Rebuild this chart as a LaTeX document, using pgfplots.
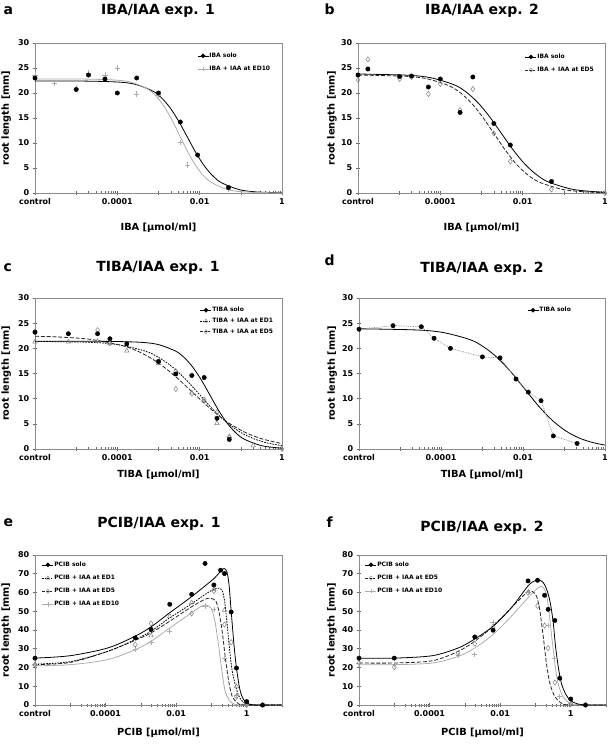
\documentclass[border=0pt]{standalone}
\usepackage{fontspec}
\setmainfont{DejaVu Sans}
\usepackage{pgfplots}
\pgfplotsset{compat=1.18}
\definecolor{axgray}{gray}{0.55}
\definecolor{tkgray}{gray}{0.4}
\definecolor{lgray}{gray}{0.68}
\definecolor{mgray}{gray}{0.5}
\pgfplotsset{
 panel/.style={
  scale only axis, width=247pt, height=150pt,
  xmin=-6, ymin=0,
  axis line style={axgray, line width=0.6pt},
  tick style={tkgray, line width=0.6pt},
  tick align=center, major tick length=4.5pt, minor tick length=3pt,
  xtick pos=bottom, ytick pos=left,
  /pgf/number format/assume math mode=true,
  ticklabel style={font=\fontsize{8}{9}\selectfont\bfseries, black},
  label style={font=\fontsize{9.8}{11}\selectfont\bfseries},
  ylabel={root length [mm]},
  minor xtick={-4.699,-4.523,-4.398,-4.301,-4.222,-4.155,-4.097,-4.046,-2.699,-2.523,-2.398,-2.301,-2.222,-2.155,-2.097,-2.046,-0.699,-0.523,-0.398,-0.301,-0.222,-0.155,-0.097,-0.046},
  legend style={draw=none, fill=none, font=\fontsize{6}{7}\selectfont\bfseries, anchor=north west, inner sep=0pt, row sep=6pt, nodes={inner sep=0.6pt}},
  legend cell align=left,
  legend image code/.code={\draw[mark repeat=2,mark phase=2,##1] plot coordinates {(0pt,0pt)(5.5pt,0pt)(11pt,0pt)};},
 },
 small/.style={panel, xmax=0, ymax=30, ytick={0,5,...,30}, xtick={-6,-5,...,0}, xticklabels={control,,0.0001,,0.01,,1}},
 big/.style={panel, xmax=1, ymax=80, ytick={0,10,...,80}, xtick={-6,-5,...,1}, xticklabels={control,,0.0001,,0.01,,1,}},
 solocurve/.style={black, line width=0.8pt, smooth, forget plot},
 solomarks/.style={only marks, mark=*, mark size=2.2pt, black, forget plot},
 tencurve/.style={lgray, line width=0.8pt, smooth, forget plot},
 tenmarks/.style={only marks, mark=+, mark size=2.6pt, lgray, line width=0.7pt, forget plot},
 fivecurve/.style={black!85, dash pattern=on 4pt off 1.8pt, line width=0.8pt, smooth, forget plot},
 fivemarks/.style={only marks, mark=diamond, mark size=2.6pt, mark options={draw=mgray, fill=white, solid, line width=0.5pt}, forget plot},
 onecurve/.style={black, dash pattern=on 1.6pt off 1.2pt, line width=0.8pt, smooth, forget plot},
 onemarks/.style={only marks, mark=triangle, mark size=2.6pt, mark options={draw=mgray, fill=white, solid, line width=0.5pt}, forget plot},
}
\newcommand{\lgsolo}{\addlegendimage{black, line width=0.6pt, mark=*, mark size=1.9pt}}
\newcommand{\lgten}{\addlegendimage{lgray, line width=0.6pt, mark=+, mark size=2.2pt}}
\newcommand{\lgfive}{\addlegendimage{black!85, dash pattern=on 2.5pt off 1.2pt, line width=0.6pt, mark=diamond, mark size=2.2pt, mark options={solid, draw=mgray, fill=white, line width=0.4pt}}}
\newcommand{\lgone}{\addlegendimage{black, dash pattern=on 1.2pt off 1pt, line width=0.6pt, mark=triangle, mark size=2.2pt, mark options={solid, draw=mgray, fill=white, line width=0.4pt}}}
\begin{document}
\begin{tikzpicture}[x=1pt,y=1pt]
\useasboundingbox (0,0) rectangle (609,747);

% ---------------- a ----------------
\begin{axis}[small, at={(35pt,554pt)}, anchor=south west,
  xlabel={IBA [µmol/ml]},
  xlabel style={at={(axis description cs:0.5,-0.233)}, anchor=center},
  ylabel style={at={(axis description cs:-0.117,0.5)}, anchor=center},
  legend style={at={(0.656,0.94)}}]
\addplot[solocurve] coordinates {(-6,22.40) (-4.8,22.38) (-3.967,22.18) (-3.55,21.71) (-3.133,20.36) (-2.925,19.02) (-2.717,17.02) (-2.508,14.34) (-2.3,11.20) (-2.092,8.06) (-1.883,5.38) (-1.675,3.38) (-1.467,2.04) (-1.05,0.69) (-0.633,0.22) (0,0.04)};
\addplot[tencurve] coordinates {(-6,22.80) (-4.788,22.78) (-4.018,22.57) (-3.634,22.09) (-3.249,20.73) (-3.057,19.36) (-2.865,17.33) (-2.672,14.59) (-2.48,11.40) (-2.288,8.21) (-2.095,5.47) (-1.903,3.44) (-1.711,2.07) (-1.326,0.71) (-0.942,0.23) (0,0.01)};
\addplot[tenmarks] coordinates {(-6,23.6) (-5.53,21.9) (-5.0,21.0) (-4.7,24.0) (-4.3,23.6) (-4.0,25.0) (-3.53,19.8) (-3.0,19.6) (-2.47,10.1) (-2.3,5.6) (-1.3,0.7)};
\addplot[solomarks] coordinates {(-6,23.0) (-5.0,20.7) (-4.7,23.6) (-4.3,22.8) (-4.0,20.0) (-3.53,23.0) (-3.0,20.0) (-2.47,14.2) (-2.05,7.6) (-1.3,1.1)};
\lgsolo \addlegendentry{IBA solo}
\lgten \addlegendentry{IBA + IAA at ED10}
\end{axis}

% ---------------- b ----------------
\begin{axis}[small, at={(358pt,554pt)}, anchor=south west,
  xlabel={IBA [µmol/ml]},
  xlabel style={at={(axis description cs:0.5,-0.233)}, anchor=center},
  ylabel style={at={(axis description cs:-0.105,0.5)}, anchor=center},
  legend style={at={(0.676,0.933)}}]
\addplot[solocurve] coordinates {(-6,23.80) (-4.813,23.56) (-4.238,23.06) (-3.663,21.64) (-3.376,20.21) (-3.089,18.09) (-2.801,15.23) (-2.514,11.90) (-2.227,8.57) (-1.939,5.71) (-1.652,3.59) (-1.365,2.17) (-0.790,0.74) (-0.215,0.24) (0,0.15)};
\addplot[fivecurve] coordinates {(-6,23.58) (-4.888,23.36) (-4.338,22.87) (-3.789,21.45) (-3.514,20.04) (-3.239,17.94) (-2.965,15.10) (-2.69,11.80) (-2.415,8.50) (-2.141,5.66) (-1.866,3.56) (-1.591,2.15) (-1.042,0.73) (-0.492,0.23) (0,0.08)};
\addplot[fivemarks] coordinates {(-6,22.6) (-5.76,26.7) (-4.99,22.8) (-4.70,23.2) (-4.29,19.8) (-4.0,21.8) (-3.52,16.6) (-3.21,20.8) (-2.70,11.9) (-2.30,6.3) (-1.30,0.7) (0,0.0)};
\addplot[solomarks] coordinates {(-6,23.6) (-5.76,24.8) (-4.99,23.3) (-4.70,23.4) (-4.29,21.2) (-4.0,22.8) (-3.52,16.1) (-3.21,23.2) (-2.70,13.9) (-2.30,9.6) (-1.30,2.3)};
\lgsolo \addlegendentry{IBA solo}
\lgfive \addlegendentry{IBA + IAA at ED5}
\end{axis}

% ---------------- c ----------------
\begin{axis}[small, at={(35pt,298pt)}, anchor=south west, height=151pt,
  xlabel={TIBA [µmol/ml]},
  xlabel style={at={(axis description cs:0.5,-0.17)}, anchor=center},
  ylabel style={at={(axis description cs:-0.117,0.5)}, anchor=center},
  legend style={at={(0.668,0.944)}, row sep=3.6pt}]
\addplot[solocurve] coordinates {(-6,21.40) (-4.25,21.38) (-3.417,21.19) (-3.0,20.74) (-2.583,19.45) (-2.375,18.17) (-2.167,16.26) (-1.958,13.70) (-1.75,10.70) (-1.542,7.70) (-1.333,5.14) (-1.125,3.23) (-0.917,1.95) (-0.5,0.66) (-0.083,0.21) (0,0.17)};
\addplot[onecurve] coordinates {(-6,21.38) (-4.657,21.19) (-3.99,20.74) (-3.323,19.45) (-2.99,18.17) (-2.657,16.26) (-2.323,13.70) (-1.99,10.70) (-1.657,7.70) (-1.323,5.14) (-0.99,3.23) (-0.657,1.95) (-0.323,1.13) (0,0.67)};
\addplot[fivecurve] coordinates {(-6,22.39) (-5.503,22.28) (-4.67,21.80) (-3.837,20.45) (-3.42,19.10) (-3.003,17.10) (-2.587,14.40) (-2.17,11.25) (-1.753,8.10) (-1.337,5.40) (-0.92,3.40) (-0.503,2.05) (0,1.07)};
\addplot[onemarks] coordinates {(-6,21.3) (-5.19,21.3) (-4.48,21.4) (-4.18,21.0) (-3.77,19.5) (-3.0,17.0) (-2.58,15.5) (-2.19,11.2) (-1.89,9.5) (-1.58,5.1) (-1.28,2.5) (-0.70,0.7)};
\addplot[fivemarks] coordinates {(-6,23.4) (-4.48,23.6) (-4.18,21.0) (-3.0,17.2) (-2.58,11.9) (-2.19,11.0) (-1.89,9.8) (-1.58,7.3) (-1.28,2.3) (0,0.0)};
\addplot[solomarks] coordinates {(-6,23.2) (-5.19,22.9) (-4.48,22.9) (-4.18,21.9) (-3.77,20.9) (-3.0,17.4) (-2.58,14.9) (-2.19,14.6) (-1.89,14.2) (-1.58,6.1) (-1.28,1.9)};
\lgsolo \addlegendentry{TIBA solo}
\lgone \addlegendentry{TIBA + IAA at ED1}
\lgfive \addlegendentry{TIBA + IAA at ED5}
\end{axis}

% ---------------- d ----------------
\begin{axis}[small, at={(359pt,298pt)}, anchor=south west, width=246pt, height=151pt,
  xlabel={TIBA [µmol/ml]},
  xlabel style={at={(axis description cs:0.5,-0.17)}, anchor=center},
  ylabel style={at={(axis description cs:-0.109,0.5)}, anchor=center},
  legend style={at={(0.683,0.944)}}]
\addplot[solocurve] coordinates {(-6,23.88) (-4.627,23.66) (-3.96,23.16) (-3.293,21.73) (-2.96,20.29) (-2.627,18.16) (-2.293,15.30) (-1.96,11.95) (-1.627,8.60) (-1.293,5.74) (-0.96,3.61) (-0.627,2.17) (-0.293,1.27) (0,0.78)};
\addplot[mgray, densely dotted, line width=0.7pt, forget plot] coordinates {(-6,23.8) (-5.17,24.5) (-4.48,24.3) (-4.17,22.0) (-3.77,20.0) (-2.99,18.3) (-2.56,18.1) (-2.17,13.9) (-1.87,11.3) (-1.56,9.6) (-1.26,2.6) (-0.68,1.1)};
\addplot[solomarks] coordinates {(-6,23.8) (-5.17,24.5) (-4.48,24.3) (-4.17,22.0) (-3.77,20.0) (-2.99,18.3) (-2.56,18.1) (-2.17,13.9) (-1.87,11.3) (-1.56,9.6) (-1.26,2.6) (-0.68,1.1)};
\lgsolo \addlegendentry{TIBA solo}
\end{axis}

% ---------------- e ----------------
\begin{axis}[big, at={(35pt,42pt)}, anchor=south west,
  xlabel={PCIB [µmol/ml]},
  xlabel style={at={(axis description cs:0.5,-0.187)}, anchor=center},
  ylabel style={at={(axis description cs:-0.117,0.5)}, anchor=center},
  legend style={at={(0.028,0.96)}}]
\addplot[tencurve, tension=0.5] coordinates {(-6,20.9) (-5.0,21.5) (-3.94,24.2) (-3.16,29.5) (-2.71,34.0) (-2.18,41.1) (-1.56,49.2) (-1.31,52.4) (-1.17,53.3) (-1.02,51.9) (-0.91,45.6) (-0.82,34.9) (-0.72,20.6) (-0.62,8.1) (-0.50,2.7) (-0.36,0.5) (-0.17,0) (1,0)};
\addplot[fivecurve, tension=0.5] coordinates {(-6,21.5) (-5.0,22.7) (-3.94,28.6) (-3.16,34.5) (-2.71,38.5) (-2.18,44.7) (-1.56,52.4) (-1.18,56.4) (-1.02,56.9) (-0.88,55.5) (-0.79,50.1) (-0.69,38.5) (-0.60,24.2) (-0.50,11.6) (-0.41,4.5) (-0.27,1.3) (-0.08,0) (1,0)};
\addplot[onecurve, tension=0.5] coordinates {(-6,21.8) (-5.0,23.1) (-3.94,28.6) (-3.16,34.9) (-2.71,39.4) (-2.18,46.5) (-1.56,54.0) (-1.18,59.0) (-0.93,61.7) (-0.79,62.3) (-0.69,60.8) (-0.62,54.6) (-0.55,42.0) (-0.48,28.5) (-0.41,18.0) (-0.29,8.5) (-0.19,3.6) (-0.03,0.6) (0.2,0) (1,0)};
\addplot[solocurve, tension=0.5] coordinates {(-6,25.0) (-5.0,26.3) (-3.94,30.4) (-3.16,36.7) (-2.71,41.7) (-2.18,49.2) (-1.56,57.8) (-1.18,63.5) (-0.93,67.4) (-0.74,71.3) (-0.64,72.8) (-0.56,71.0) (-0.50,64.0) (-0.44,50.0) (-0.36,32.0) (-0.29,19.7) (-0.19,8.0) (-0.08,2.7) (0.07,0.5) (0.3,0) (1,0)};
\addplot[tenmarks] coordinates {(-6,21.5) (-3.16,29.9) (-2.71,33.5) (-2.18,39.4) (-1.18,52.8) (-0.93,51.0) (-0.63,25.0) (-0.29,5.0) (0,0)};
\addplot[fivemarks] coordinates {(-6,21.5) (-3.16,32.2) (-2.71,43.5) (-1.56,48.8) (-0.93,60.8) (-0.63,42.9) (-0.44,33.5) (-0.29,4.5) (0,0) (0.45,0)};
\addplot[onemarks] coordinates {(-6,21.5) (-2.71,37.0) (-2.18,47.4) (-1.56,54.6) (-0.93,61.7) (-0.63,50.6) (-0.29,9.8) (0,0.5) (0.45,0)};
\addplot[solomarks] coordinates {(-6,25.0) (-3.16,35.8) (-2.71,40.3) (-2.18,53.7) (-1.56,59.0) (-1.18,75.5) (-0.93,64.0) (-0.74,71.9) (-0.63,70.1) (-0.44,49.6) (-0.29,19.7) (0.0,1.8) (0.45,0)};
\lgsolo \addlegendentry{PCIB solo}
\lgone \addlegendentry{PCIB + IAA at ED1}
\lgfive \addlegendentry{PCIB + IAA at ED5}
\lgten \addlegendentry{PCIB + IAA at ED10}
\end{axis}

% ---------------- f ----------------
\begin{axis}[big, at={(359pt,42pt)}, anchor=south west,
  xlabel={PCIB [µmol/ml]},
  xlabel style={at={(axis description cs:0.5,-0.187)}, anchor=center},
  ylabel style={at={(axis description cs:-0.109,0.5)}, anchor=center},
  legend style={at={(0.024,0.96)}}]
\addplot[tencurve, tension=0.5] coordinates {(-6,21.5) (-5.0,21.5) (-3.92,22.4) (-3.19,25.9) (-2.72,30.4) (-2.20,37.6) (-1.68,47.4) (-1.21,57.2) (-0.92,62.6) (-0.81,63.1) (-0.72,60.8) (-0.64,53.7) (-0.55,38.5) (-0.45,22.4) (-0.36,11.6) (-0.22,4.5) (-0.03,0.9) (0.16,0) (1,0)};
\addplot[fivecurve, tension=0.5] coordinates {(-6,22.4) (-5.0,22.4) (-3.92,23.6) (-3.19,28.6) (-2.72,34.0) (-2.20,42.0) (-1.68,51.9) (-1.25,59.9) (-1.11,60.8) (-0.97,58.1) (-0.88,51.0) (-0.78,36.7) (-0.69,22.4) (-0.59,11.6) (-0.45,4.5) (-0.26,0.9) (-0.03,0) (1,0)};
\addplot[solocurve, tension=0.5] coordinates {(-6,25.0) (-5.0,25.0) (-3.92,26.3) (-3.19,30.4) (-2.72,35.2) (-2.20,42.0) (-1.68,51.9) (-1.21,63.5) (-1.02,66.2) (-0.88,66.5) (-0.78,65.3) (-0.69,62.1) (-0.59,55.5) (-0.50,44.7) (-0.43,31.3) (-0.34,18.8) (-0.25,10.7) (-0.13,5.4) (0,2.3) (0.21,0.5) (0.49,0) (1,0)};
\addplot[tenmarks] coordinates {(-6,22.0) (-5.0,21.5) (-3.19,26.3) (-2.72,26.8) (-2.20,44.2) (-1.21,60.3) (-0.64,42.4) (-0.45,25.0) (-0.31,4.5) (0,1.0)};
\addplot[fivemarks] coordinates {(-6,22.4) (-5.0,20.2) (-3.19,27.7) (-2.72,32.7) (-2.20,41.7) (-1.21,59.9) (-0.94,52.8) (-0.74,42.4) (-0.64,30.4) (-0.45,12.0) (0,0.5) (0.42,0)};
\addplot[solomarks] coordinates {(-6,25.0) (-5.0,25.0) (-2.72,36.3) (-2.20,39.9) (-1.21,66.2) (-0.94,66.5) (-0.74,58.5) (-0.64,51.0) (-0.45,45.1) (-0.31,14.3) (0,3.2) (0.42,0)};
\lgsolo \addlegendentry{PCIB solo}
\lgfive \addlegendentry{PCIB + IAA at ED5}
\lgten \addlegendentry{PCIB + IAA at ED10}
\end{axis}

% titles and panel letters
\tikzset{ttl/.style={anchor=base, font=\fontsize{14}{16}\selectfont\bfseries}, lett/.style={anchor=base west, font=\fontsize{14}{16}\selectfont\bfseries}}
\node[ttl] at (158,732) {IBA/IAA exp. 1};
\node[ttl] at (482,732) {IBA/IAA exp. 2};
\node[ttl] at (158,475) {TIBA/IAA exp. 1};
\node[ttl] at (482,474) {TIBA/IAA exp. 2};
\node[ttl] at (159,219) {PCIB/IAA exp. 1};
\node[ttl] at (482,215) {PCIB/IAA exp. 2};
\node[lett] at (0,732) {a};
\node[lett] at (321,732) {b};
\node[lett] at (0,475) {c};
\node[lett] at (321,481) {d};
\node[lett] at (0,220) {e};
\node[lett] at (323,219) {f};
\end{tikzpicture}
\end{document}
